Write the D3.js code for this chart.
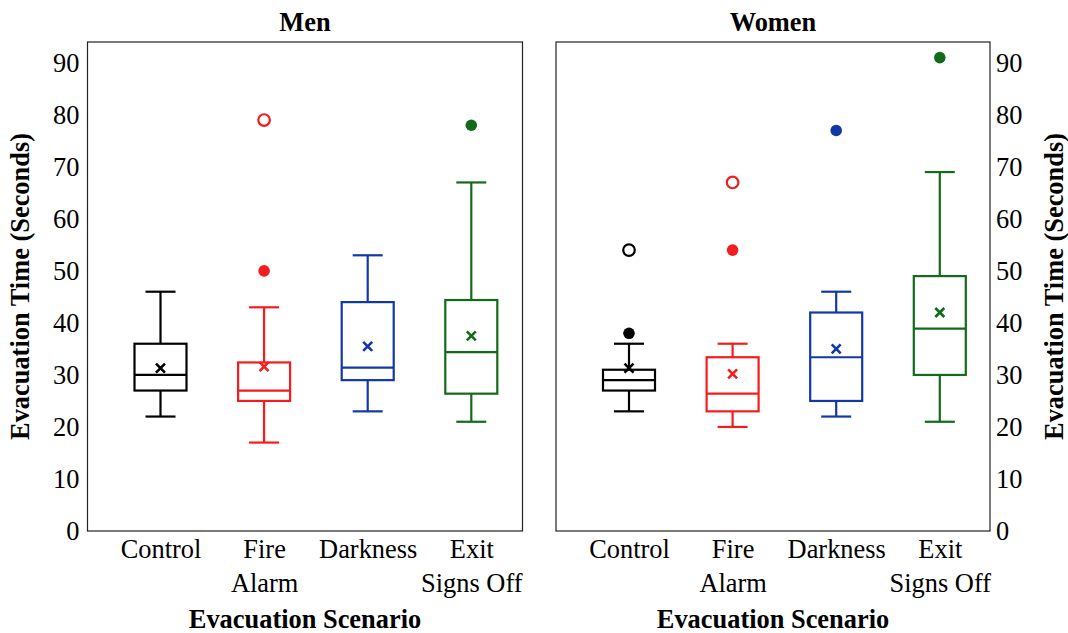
<!DOCTYPE html>
<html>
<head>
<meta charset="utf-8">
<script src="https://cdn.jsdelivr.net/npm/d3@7"></script>
<style>
  html, body { margin: 0; padding: 0; background: #fff; }
  svg { display: block; font-family: "Liberation Serif", "Times New Roman", serif; }
</style>
</head>
<body>
<svg id="chart" width="1068" height="633"></svg>
<script>
// ---- data ----
const categories = ["Control", "Fire Alarm", "Darkness", "Exit Signs Off"];
const categoryLines = [["Control"], ["Fire", "Alarm"], ["Darkness"], ["Exit", "Signs Off"]];
const panels = ["Men", "Women"];
const yTicks = [0, 10, 20, 30, 40, 50, 60, 70, 80, 90];

// Men
const menWhiskerLow  = [22, 17, 23, 21];
const menQ1          = [27, 25, 29, 26.4];
const menMedian      = [30, 27, 31.4, 34.4];
const menQ3          = [36, 32.4, 44, 44.4];
const menWhiskerHigh = [46, 43, 53, 67];
const menMean        = [31.3, 31.6, 35.5, 37.5];
const menOutliersFilled = [[], [50], [], [78]];
const menOutliersOpen   = [[], [79], [], []];

// Women
const womenWhiskerLow  = [23, 20, 22, 21];
const womenQ1          = [27, 23, 25, 30];
const womenMedian      = [29, 26.4, 33.4, 38.9];
const womenQ3          = [31, 33.4, 42, 49];
const womenWhiskerHigh = [36, 36, 46, 69];
const womenMean        = [31.3, 30.2, 35, 42];
const womenOutliersFilled = [[38], [54], [77], [91]];
const womenOutliersOpen   = [[54], [67], [], []];

const colors = ["#000000", "#f41c1c", "#1238a8", "#126b18"];

const panelData = [
  { name: panels[0], lo: menWhiskerLow, q1: menQ1, med: menMedian, q3: menQ3, hi: menWhiskerHigh, mean: menMean, filled: menOutliersFilled, open: menOutliersOpen },
  { name: panels[1], lo: womenWhiskerLow, q1: womenQ1, med: womenMedian, q3: womenQ3, hi: womenWhiskerHigh, mean: womenMean, filled: womenOutliersFilled, open: womenOutliersOpen }
];

// ---- layout ----
const svg = d3.select("#chart");
const plotTop = 42, plotBottom = 531;
const panelX = [[87.5, 522.5], [556, 990]];
const y = d3.scaleLinear().domain([0, 94]).range([plotBottom, plotTop]);
const fontSize = 26.4;
const boxW = 52, capW = 30;

panelData.forEach((p, pi) => {
  const [x0, x1] = panelX[pi];
  const x = d3.scalePoint().domain(categories).range([x0 + 73, x0 + 73 + 3 * 103.6]);
  const g = svg.append("g");

  // frame
  g.append("rect")
    .attr("x", x0).attr("y", plotTop)
    .attr("width", x1 - x0).attr("height", plotBottom - plotTop)
    .attr("fill", "none").attr("stroke", "#222").attr("stroke-width", 1.2);

  // title
  g.append("text")
    .attr("x", (x0 + x1) / 2).attr("y", 31)
    .attr("text-anchor", "middle")
    .attr("font-weight", "bold").attr("font-size", fontSize)
    .text(p.name);

  // x axis labels
  const xAxis = d3.axisBottom(x).tickSize(0).tickPadding(8.3);
  const xg = g.append("g").attr("transform", `translate(0,${plotBottom})`).call(xAxis);
  xg.select(".domain").remove();
  xg.selectAll("text")
    .attr("font-size", fontSize).attr("font-family", "Liberation Serif, Times New Roman, serif")
    .attr("fill", "#000")
    .each(function(d) {
      const t = d3.select(this);
      const lines = categoryLines[categories.indexOf(d)];
      t.text(null);
      lines.forEach((ln, li) => {
        t.append("tspan").attr("x", 0).attr("dy", li === 0 ? "0.71em" : "1.29em").text(ln);
      });
    });

  // x axis title
  g.append("text")
    .attr("x", (x0 + x1) / 2).attr("y", 628)
    .attr("text-anchor", "middle")
    .attr("font-weight", "bold").attr("font-size", fontSize)
    .text("Evacuation Scenario");

  // y axis
  let yAxis, yg;
  if (pi === 0) {
    yAxis = d3.axisLeft(y).tickValues(yTicks).tickSize(0).tickPadding(8);
    yg = g.append("g").attr("transform", `translate(${x0},0)`).call(yAxis);
  } else {
    yAxis = d3.axisRight(y).tickValues(yTicks).tickSize(0).tickPadding(6);
    yg = g.append("g").attr("transform", `translate(${x1},0)`).call(yAxis);
  }
  yg.select(".domain").remove();
  yg.selectAll("text")
    .attr("font-size", fontSize).attr("font-family", "Liberation Serif, Times New Roman, serif")
    .attr("fill", "#000");

  // y axis title
  const ytx = pi === 0 ? 20 : 1054;
  g.append("text")
    .attr("transform", `translate(${ytx},${(plotTop + plotBottom) / 2}) rotate(-90)`)
    .attr("text-anchor", "middle").attr("dy", "0.35em")
    .attr("font-weight", "bold").attr("font-size", fontSize)
    .text("Evacuation Time (Seconds)");

  // boxes
  categories.forEach((c, i) => {
    const cx = x(c);
    const col = colors[i];
    const bg = g.append("g").attr("stroke", col).attr("stroke-width", 2.2).attr("fill", "none");
    // whiskers
    bg.append("line").attr("x1", cx).attr("x2", cx).attr("y1", y(p.q3[i])).attr("y2", y(p.hi[i]));
    bg.append("line").attr("x1", cx).attr("x2", cx).attr("y1", y(p.q1[i])).attr("y2", y(p.lo[i]));
    bg.append("line").attr("x1", cx - capW / 2).attr("x2", cx + capW / 2).attr("y1", y(p.hi[i])).attr("y2", y(p.hi[i]));
    bg.append("line").attr("x1", cx - capW / 2).attr("x2", cx + capW / 2).attr("y1", y(p.lo[i])).attr("y2", y(p.lo[i]));
    // box
    bg.append("rect")
      .attr("x", cx - boxW / 2).attr("y", y(p.q3[i]))
      .attr("width", boxW).attr("height", y(p.q1[i]) - y(p.q3[i]))
      .attr("fill", "#fff");
    // median
    bg.append("line").attr("x1", cx - boxW / 2).attr("x2", cx + boxW / 2).attr("y1", y(p.med[i])).attr("y2", y(p.med[i]));
    // mean cross
    const my = y(p.mean[i]), s = 4.5;
    bg.append("path")
      .attr("d", `M${cx - s},${my - s}L${cx + s},${my + s}M${cx - s},${my + s}L${cx + s},${my - s}`)
      .attr("stroke-width", 2.6);
    // outliers
    p.filled[i].forEach(v => {
      g.append("circle").attr("cx", cx).attr("cy", y(v)).attr("r", 5.8).attr("fill", col);
    });
    p.open[i].forEach(v => {
      g.append("circle").attr("cx", cx).attr("cy", y(v)).attr("r", 5.8)
        .attr("fill", "#fff").attr("stroke", col).attr("stroke-width", 2.2);
    });
  });
});
</script>
</body>
</html>
